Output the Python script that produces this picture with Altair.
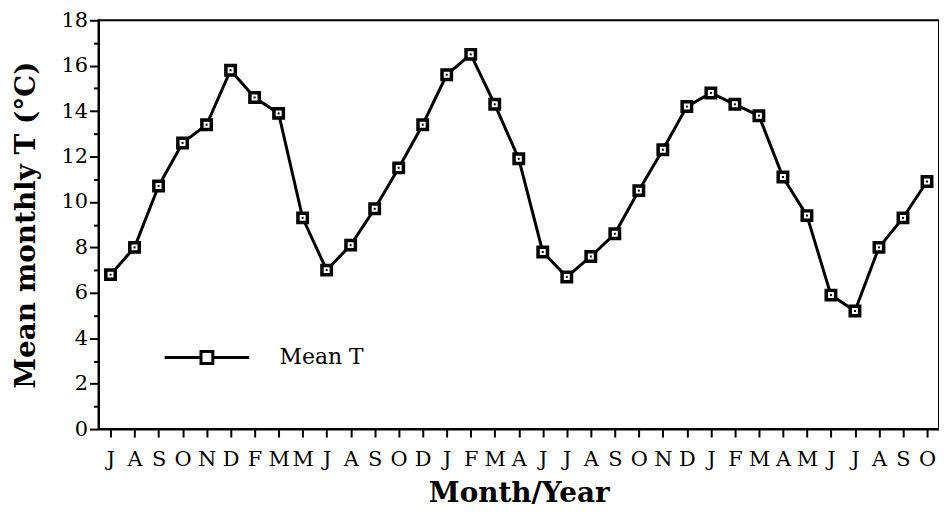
import altair as alt
import pandas as pd

months = "J A S O N D F M M J A S O D J F M A J J A S O N D J F M A M J J A S O".split()
temps = [6.8, 8.0, 10.7, 12.6, 13.4, 15.8, 14.6, 13.9, 9.3, 7.0, 8.1, 9.7, 11.5, 13.4,
         15.6, 16.5, 14.3, 11.9, 7.8, 6.7, 7.6, 8.6, 10.5, 12.3, 14.2, 14.8, 14.3, 13.8,
         11.1, 9.4, 5.9, 5.2, 8.0, 9.3, 10.9]
series_name = "Mean T"

df = pd.DataFrame({"idx": list(range(len(temps))), "temp": temps, "series": series_name})

FONT = "DejaVu Serif"
label_expr = "[" + ",".join("'%s'" % m for m in months) + "][datum.value]"

x = alt.X("idx:Q",
          scale=alt.Scale(domain=[-0.5, len(temps) - 0.5], nice=False, zero=False),
          axis=alt.Axis(values=list(range(len(temps))), labelExpr=label_expr,
                        title="Month/Year", tickSize=8, labelPadding=12,
                        labelFontSize=21, titleFontSize=28, titlePadding=10,
                        labelFlush=False, labelOverlap=False))
y = alt.Y("temp:Q",
          scale=alt.Scale(domain=[0, 18], nice=False),
          axis=alt.Axis(values=list(range(0, 19)),
                        labelExpr="datum.value % 2 === 0 ? datum.label : ''",
                        tickSize={"condition": {"test": "datum.value % 2 === 0", "value": 9}, "value": 5},
                        title="Mean monthly T (°C)", labelPadding=2,
                        labelFontSize=21, titleFontSize=28, titlePadding=21))

legend = alt.Legend(title=None, orient="none", legendX=65, legendY=295,
                    symbolType="M-1,0H-0.14M0.14,0H1M-0.14,-0.14H0.14V0.14H-0.14Z",
                    symbolSize=7225, symbolStrokeWidth=3, symbolStrokeColor="black",
                    labelFont=FONT, labelFontSize=22, labelOffset=29, padding=0)

line = alt.Chart(df).mark_line(strokeWidth=3).encode(
    x=x, y=y,
    color=alt.Color("series:N", scale=alt.Scale(range=["black"]), legend=legend))
pts = alt.Chart(df).mark_point(shape="square", filled=True, fill="white", stroke="black",
                               strokeWidth=3.5, size=90, opacity=1).encode(x=x, y=y)
dots = alt.Chart(df).mark_square(size=4, color="black", opacity=1).encode(x=x, y=y)

chart = alt.layer(line, pts, dots).properties(
    width=845, height=411, background="white",
    padding={"top": 0, "left": 4, "right": 0, "bottom": 0}
).configure_view(stroke="black", strokeWidth=2).configure_axis(
    domainColor="black", domainWidth=2, tickColor="black", tickWidth=2,
    labelColor="black", titleColor="black", labelFont=FONT, titleFont=FONT,
    titleFontWeight="bold", grid=False
)

chart.save("out.html", embed_options={"renderer": "svg", "actions": False})
